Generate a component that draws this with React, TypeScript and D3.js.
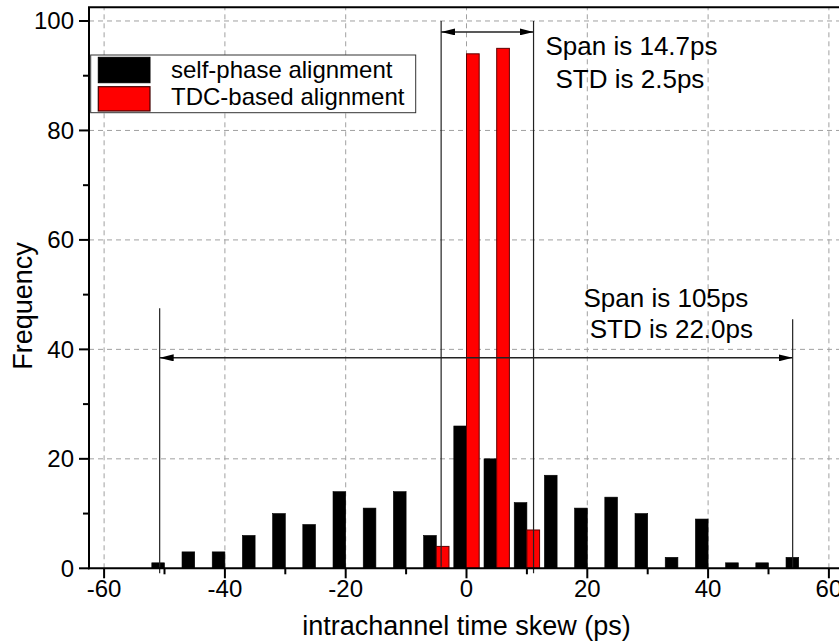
import React from "react";
import * as d3 from "d3";

const binCenters = [-50, -45, -40, -35, -30, -25, -20, -15, -10, -5, 0, 5, 10, 15, 20, 25, 30, 35, 40, 45, 50, 55];
const selfPhaseCounts = [1, 3, 3, 6, 10, 8, 14, 11, 14, 6, 26, 20, 12, 17, 11, 13, 10, 2, 9, 1, 1, 2];
const tdcBins = [-5, 0, 5, 10];
const tdcCounts = [4, 94, 95, 7];
const xMajorTicks = [-60, -40, -20, 0, 20, 40, 60];
const xMinorTicks = [-50, -30, -10, 10, 30, 50];
const yMajorTicks = [0, 20, 40, 60, 80, 100];
const yMinorTicks = [10, 30, 50, 70, 90];
const seriesNames = ["self-phase alignment", "TDC-based alignment"];
const seriesColors = ["#000000", "#ff0000"];

const W = 839;
const H = 642;
const FONT = "'Liberation Sans', Arial, sans-serif";

export default function App() {
  const x = d3.scaleLinear().domain([-62.5, 62.5]).range([89, 844]);
  const y = d3.scaleLinear().domain([0, 102.5]).range([568.3, 7.3]);
  const barW = 2.1;
  const gridColor = "#a0a0a0";

  return (
    <svg width={W} height={H} style={{ position: "absolute", left: 0, top: 0, background: "#fff" }} fontFamily={FONT}>
      <defs>
        <marker id="arr" viewBox="0 0 14 7" refX="14" refY="3.5" markerWidth="14" markerHeight="7" markerUnits="userSpaceOnUse" orient="auto-start-reverse">
          <path d="M0,0 L14,3.5 L0,7 z" fill="#000" />
        </marker>
      </defs>
      <rect x={0} y={0} width={W} height={H} fill="#fff" />
      {/* grid */}
      {yMajorTicks.filter((t) => t > 0).map((t) => (
        <line key={"gy" + t} x1={x(-62.5)} x2={x(62.5)} y1={y(t)} y2={y(t)} stroke={gridColor} strokeWidth={1} strokeDasharray="5,4" />
      ))}
      {xMajorTicks.map((t) => (
        <line key={"gx" + t} x1={x(t)} x2={x(t)} y1={y(0)} y2={y(102.5)} stroke={gridColor} strokeWidth={1} strokeDasharray="5,4" />
      ))}
      {/* bars */}
      {binCenters.map((c, i) => (
        <rect key={"b" + c} x={x(c - barW)} width={x(barW) - x(0)} y={y(selfPhaseCounts[i])} height={y(0) - y(selfPhaseCounts[i])} fill={seriesColors[0]} stroke="#000" strokeWidth={0.6} />
      ))}
      {tdcBins.map((c, i) => (
        <rect key={"r" + c} x={x(c)} width={x(barW) - x(0)} y={y(tdcCounts[i])} height={y(0) - y(tdcCounts[i])} fill={seriesColors[1]} stroke="#600000" strokeWidth={1} />
      ))}
      {/* annotation lines */}
      <g stroke="#222" strokeWidth={1.2}>
        <line x1={x(-4.2)} x2={x(-4.2)} y1={y(100)} y2={y(0.3)} />
        <line x1={x(11.1)} x2={x(11.1)} y1={y(100)} y2={y(-0.9)} />
        <line x1={x(-50.8)} x2={x(-50.8)} y1={y(47.5)} y2={y(-0.9)} />
        <line x1={x(54)} x2={x(54)} y1={y(45.5)} y2={y(0)} />
        <line x1={x(-4.2)} x2={x(11.1)} y1={y(98)} y2={y(98)} markerStart="url(#arr)" markerEnd="url(#arr)" strokeWidth={1.5} />
        <line x1={x(-50.8)} x2={x(54)} y1={y(38.45)} y2={y(38.45)} markerStart="url(#arr)" markerEnd="url(#arr)" strokeWidth={1.5} />
      </g>
      {/* annotation text */}
      <g fontSize={26} fill="#000">
        <text x={x(13.08)} y={y(93.8)}>Span is 14.7ps</text>
        <text x={x(14.74)} y={y(87.7)}>STD is 2.5ps</text>
        <text x={x(19.37)} y={y(47.8)}>Span is 105ps</text>
        <text x={x(20.4)} y={y(42.0)}>STD is 22.0ps</text>
      </g>
      {/* legend */}
      <g>
        <rect x={90.7} y={55} width={325} height={57.7} fill="#fff" stroke="#333" strokeWidth={1} />
        <rect x={98.3} y={57.3} width={51.7} height={25.4} fill={seriesColors[0]} stroke="#000" />
        <rect x={98.3} y={86.7} width={51.7} height={24.3} fill={seriesColors[1]} stroke="#400" strokeWidth={1.2} />
        <text x={171} y={77.7} fontSize={24}>{seriesNames[0]}</text>
        <text x={171} y={105} fontSize={24}>{seriesNames[1]}</text>
      </g>
      {/* axes frame */}
      <g stroke="#000" strokeWidth={2}>
        <line x1={x(-62.5)} x2={x(-62.5)} y1={y(102.5)} y2={y(0) + 1} />
        <line x1={x(-62.5) - 1} x2={x(62.5)} y1={y(0)} y2={y(0)} />
        <line x1={x(-62.5) - 1} x2={x(62.5)} y1={y(102.5)} y2={y(102.5)} />
        <line x1={x(62.5)} x2={x(62.5)} y1={y(102.5)} y2={y(0)} />
      </g>
      {/* ticks */}
      <g stroke="#000" strokeWidth={2}>
        {xMajorTicks.map((t) => (
          <line key={"xt" + t} x1={x(t)} x2={x(t)} y1={y(0)} y2={y(0) + 10} />
        ))}
        {xMinorTicks.map((t) => (
          <line key={"xm" + t} x1={x(t)} x2={x(t)} y1={y(0)} y2={y(0) + 6} />
        ))}
        {yMajorTicks.map((t) => (
          <line key={"yt" + t} x1={x(-62.5) - 10} x2={x(-62.5)} y1={y(t)} y2={y(t)} />
        ))}
        {yMinorTicks.map((t) => (
          <line key={"ym" + t} x1={x(-62.5) - 6} x2={x(-62.5)} y1={y(t)} y2={y(t)} />
        ))}
      </g>
      <g fontSize={24} fill="#000">
        {xMajorTicks.map((t) => (
          <text key={"xl" + t} x={x(t)} y={597} textAnchor="middle">{t}</text>
        ))}
        {yMajorTicks.map((t) => (
          <text key={"yl" + t} x={74} y={y(t)} dy="0.35em" textAnchor="end">{t}</text>
        ))}
      </g>
      <text x={x(0)} y={635} fontSize={27} textAnchor="middle">intrachannel time skew (ps)</text>
      <text transform={`translate(32,306) rotate(-90)`} fontSize={27} textAnchor="middle">Frequency</text>
    </svg>
  );
}
